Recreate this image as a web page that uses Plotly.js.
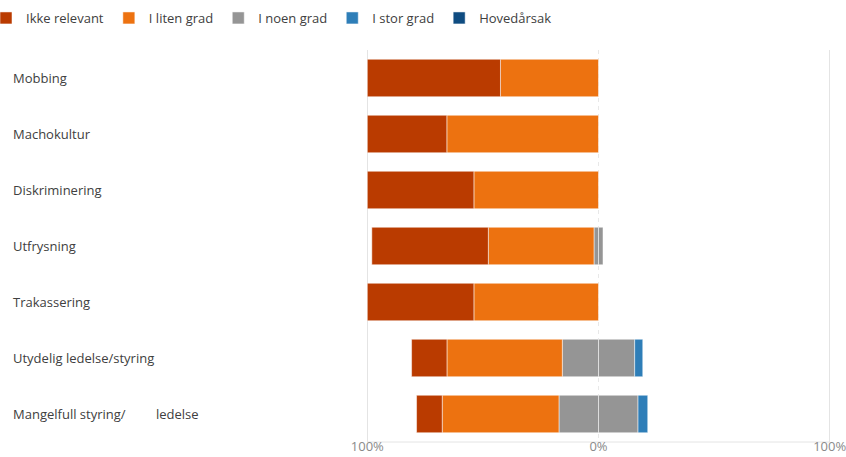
<!DOCTYPE html>
<html>
<head>
<meta charset="utf-8">
<script src="https://cdn.plot.ly/plotly-3.0.1.min.js"></script>
<style>html,body{margin:0;padding:0;background:#fff;}#chart{width:846px;height:457px;}</style>
</head>
<body>
<div id="chart"></div>
<script>
var categories = ["Mobbing", "Machokultur", "Diskriminering", "Utfrysning", "Trakassering", "Utydelig ledelse/styring", "Mangelfull styring/\u00A0\u00A0\u00A0\u00A0\u00A0\u00A0\u00A0\u00A0\u00A0ledelse"];
var ikkeRelevant = [57.6, 34.4, 46.1, 50.4, 46.1, 15.3, 11.1];
var iLitenGrad   = [42.4, 65.6, 53.9, 45.7, 53.9, 49.9, 50.5];
var iNoenGrad    = [0, 0, 0, 3.9, 0, 31.3, 34.2];
var iStorGrad    = [0, 0, 0, 0, 0, 3.5, 4.2];
var hovedarsak   = [0, 0, 0, 0, 0, 0, 0];
var seriesNames  = ["Ikke relevant", "I liten grad", "I noen grad", "I stor grad", "Hovedårsak"];
var seriesColors = ["#BA3B00", "#ED7210", "#959595", "#2E7EB8", "#0F4C81"];
var tickVals = [-100, 0, 100];
var tickText = ["100%", "0%", "100%"];

var FONT = "Open Sans, Segoe UI, sans-serif";
function nz(v){ return v > 0 ? v : null; }
var line = {color: "rgba(255,255,255,0.5)", width: 1};

function bar(name, vals, sign, ci, rank, show, group, xa){
  return {
    type: "bar", orientation: "h", name: name,
    y: categories,
    x: vals.map(function(v){ var s = nz(v); return s === null ? null : sign * s; }),
    marker: {color: seriesColors[ci], line: line},
    legendrank: rank, showlegend: show, legendgroup: group,
    xaxis: xa,
    hovertemplate: name + ": %{customdata:.1f}%<extra></extra>",
    customdata: vals
  };
}

var half = iNoenGrad.map(function(v){ return v / 2; });
var traces = [
  bar(seriesNames[4], hovedarsak, 1, 4, 5, true, "hoved", "x"),
  bar(seriesNames[2], half, -1, 2, 3, true, "noen", "x2"),
  bar(seriesNames[1], iLitenGrad, -1, 1, 2, true, "liten", "x2"),
  bar(seriesNames[0], ikkeRelevant, -1, 0, 1, true, "ikke", "x2"),
  bar(seriesNames[2], half, 1, 2, 3, false, "noen", "x2"),
  bar(seriesNames[3], iStorGrad, 1, 3, 4, true, "stor", "x2")
];

var mL = 365, mR = 14, mT = 50, mB = 15;
var plotW = 846 - mL - mR;
var plotH = 457 - mT - mB;
var xRange = [-101, 101];
var annotations = categories.map(function(c){
  return {xref: "paper", yref: "y", x: (11 - mL) / plotW, y: c, xanchor: "left", yanchor: "middle",
          text: c, showarrow: false, font: {family: FONT, size: 13, color: "#404040"}};
});

var gridC = "#e4e4e4";
var tickFont = {family: FONT, size: 13, color: "#8a8a8a"};
var layout = {
  width: 846, height: 457,
  margin: {l: mL, r: mR, t: mT, b: mB, autoexpand: false},
  paper_bgcolor: "#fff", plot_bgcolor: "#fff",
  barmode: "relative", bargap: 0.33,
  font: {family: FONT, size: 13, color: "#404040"},
  xaxis: {range: xRange, tickvals: [tickVals[1]], ticktext: [tickText[1]],
          showgrid: true, griddash: "4px,4px", gridcolor: "#e8e8e8", zeroline: false, showline: false,
          ticks: "", ticklabelstandoff: -5, ticklabeloverflow: "allow",
          tickfont: tickFont, automargin: false, fixedrange: true},
  xaxis2: {overlaying: "x", anchor: "y", side: "bottom", range: xRange,
          tickvals: [tickVals[0], tickVals[2]], ticktext: [tickText[0], tickText[2]],
          showgrid: true, gridcolor: gridC, zeroline: false, showline: false,
          ticks: "", ticklabelstandoff: -5, ticklabeloverflow: "allow",
          tickfont: tickFont, automargin: false, fixedrange: true},
  yaxis: {type: "category", range: [6.5, -0.5], showticklabels: false, showgrid: false, zeroline: false,
          automargin: false, fixedrange: true},
  shapes: [{type: "line", xref: "x", yref: "paper", x0: tickVals[0], x1: tickVals[2], y0: 0, y1: 0,
            line: {color: gridC, width: 1}, layer: "below"}],
  legend: {orientation: "h", x: (-14 - mL) / plotW, xanchor: "left", y: 1 + 32 / plotH, yanchor: "middle",
           font: {family: FONT, size: 13, color: "#404040"}, traceorder: "normal"},
  annotations: annotations,
  showlegend: true
};

Plotly.newPlot("chart", traces, layout, {displayModeBar: false, staticPlot: true});
</script>
</body>
</html>
